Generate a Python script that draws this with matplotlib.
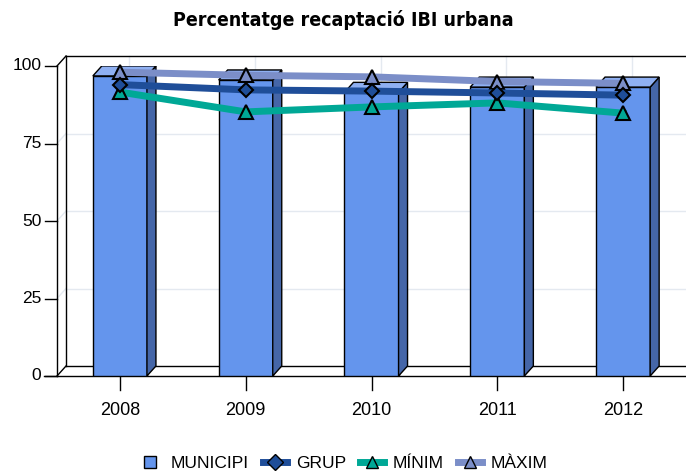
import matplotlib
matplotlib.use("Agg")
from matplotlib import pyplot as plt
from matplotlib.patches import Polygon
from matplotlib.lines import Line2D
import numpy as np

years = ["2008", "2009", "2010", "2011", "2012"]
municipi = [96.8, 95.5, 91.5, 93.2, 93.2]
grup = [94.0, 92.3, 91.9, 91.3, 90.6]
minim = [91.6, 85.2, 86.8, 88.1, 84.8]
maxim = [98.0, 97.0, 96.5, 95.0, 94.4]
yticks = [0, 25, 50, 75, 100]

BAR = "#6495ed"
BAR_SIDE = "#4566a8"
BAR_TOP = "#8fb0f2"
C_GRUP = "#1f4e99"
C_MIN = "#00a896"
C_MAX = "#7b8ec8"
GRID = "#e4e9f0"
FONT = ["Liberation Sans", "DejaVu Sans"]

fig = plt.figure(figsize=(6.86, 4.76), dpi=100)
ax = fig.add_axes([57 / 686, 100 / 476, 629 / 686, 310 / 476])
ax.set_xlim(-0.5, 4.5)
ax.set_ylim(0, 100)
ax.axis("off")

# depth offset of the fake 3D box, in data units (~9 px right, ~10 px up)
dx = 9 / 125.8
dy = 10 / 3.1
x = np.arange(len(years))
w = 0.43

# back wall grid
for t in yticks[1:-1]:
    ax.plot([-0.5 + dx, 4.5], [t + dy, t + dy], color=GRID, lw=1, zorder=1, clip_on=False)
    ax.plot([-0.5, -0.5 + dx], [t, t + dy], color=GRID, lw=1, zorder=1, clip_on=False)
for xi in x:
    ax.plot([xi + dx, xi + dx], [dy, 100 + dy], color=GRID, lw=1, zorder=1, clip_on=False)

# box frame
k = dict(color="black", lw=1, zorder=2, clip_on=False)
ax.plot([-0.5 + dx, 4.5], [100 + dy, 100 + dy], **k)
ax.plot([-0.5 + dx, 4.5], [dy, dy], **k)
ax.plot([-0.5 + dx, -0.5 + dx], [dy, 100 + dy], **k)
ax.plot([-0.5, -0.5], [0, 100], **k)
ax.plot([-0.5, -0.5 + dx], [100, 100 + dy], **k)
ax.plot([-0.5, -0.5 + dx], [0, dy], **k)
ax.plot([-0.6, 4.5], [0, 0], **k)

# y ticks and labels
for t in yticks:
    ax.plot([-0.595, -0.5], [t, t], **k)
    ax.text(-0.625, t, str(t), ha="right", va="center", fontsize=12.5, family=FONT)

# x ticks and labels
for xi, lab in zip(x, years):
    ax.plot([xi, xi], [0, -4.5], **k)
    ax.text(xi, -11, lab, ha="center", va="center", fontsize=13, family=FONT)

# bars with side and top faces
for xi, v in zip(x, municipi):
    ax.bar(xi, v, width=w, color=BAR, edgecolor="black", lw=1, zorder=3)
    side = [(xi + w / 2, 0), (xi + w / 2 + dx, dy), (xi + w / 2 + dx, v + dy), (xi + w / 2, v)]
    top = [(xi - w / 2, v), (xi + w / 2, v), (xi + w / 2 + dx, v + dy), (xi - w / 2 + dx, v + dy)]
    ax.add_patch(Polygon(side, closed=True, fc=BAR_SIDE, ec="black", lw=1, zorder=3))
    ax.add_patch(Polygon(top, closed=True, fc=BAR_TOP, ec="black", lw=1, zorder=3))

# lines
ms = dict(markeredgecolor="black", markeredgewidth=1.5, markersize=10)
ax.plot(x, maxim, color=C_MAX, lw=5, marker="^", zorder=5, clip_on=False, **ms)
ax.plot(x, grup, color=C_GRUP, lw=5, marker="D", zorder=6, clip_on=False,
        markeredgecolor="black", markeredgewidth=1.5, markersize=7)
ax.plot(x, minim, color=C_MIN, lw=5, marker="^", zorder=5, clip_on=False, **ms)

fig.text(0.5, 0.957, "Percentatge recaptació IBI urbana", ha="center", va="center",
         fontsize=14, fontweight="bold", fontstretch="condensed",
         family=["DejaVu Sans"])

handles = [
    Line2D([], [], ls="none", marker="s", markersize=8, markerfacecolor=BAR,
           markeredgecolor="black"),
    Line2D([], [], color=C_GRUP, lw=5, marker="D", markersize=8,
           markeredgecolor="black"),
    Line2D([], [], color=C_MIN, lw=5, marker="^", markersize=9,
           markeredgecolor="black"),
    Line2D([], [], color=C_MAX, lw=5, marker="^", markersize=9,
           markeredgecolor="black"),
]
fig.legend(handles, ["MUNICIPI", "GRUP", "MÍNIM", "MÀXIM"], loc="center",
           bbox_to_anchor=(0.5, 0.027), ncol=4, frameon=False, handlelength=1.4,
           handletextpad=0.5, columnspacing=0.8,
           prop={"family": FONT, "size": 12.5})

fig.savefig("out.png", dpi=100)
